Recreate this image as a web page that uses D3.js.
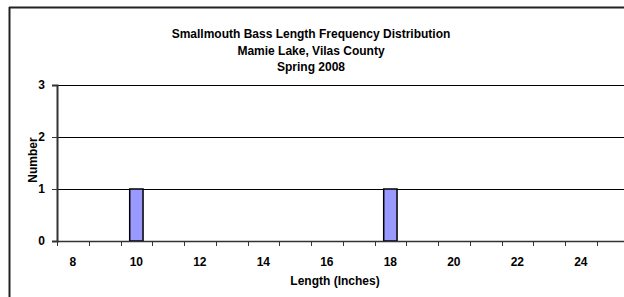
<!DOCTYPE html>
<html lang="en">
<head>
    <meta charset="UTF-8">
    <title>Smallmouth Bass Length Frequency</title>
    <script src="https://d3js.org/d3.v7.min.js"></script>
    <style>
        html, body { margin: 0; background: #fff; overflow: hidden; }
        svg { display: block; }
        text { font-family: Arial, "Liberation Sans", sans-serif; font-weight: bold; fill: #000; }
    </style>
</head>
<body>
    <div id="chart"></div>
    <script>
        // Data
        const lengths = [8, 9, 10, 11, 12, 13, 14, 15, 16, 17, 18, 19, 20, 21, 22, 23, 24, 25];
        const counts  = [0, 0, 1, 0, 0, 0, 0, 0, 0, 0, 1, 0, 0, 0, 0, 0, 0, 0];
        const yTicks = [0, 1, 2, 3];
        const titleLines = ["Smallmouth Bass Length Frequency Distribution", "Mamie Lake, Vilas County", "Spring 2008"];

        const width = 624;
        const height = 297;
        const plot = { left: 57, right: 624, top: 85, bottom: 241 };
        const font = "Arial, 'Liberation Sans', sans-serif";

        const svg = d3.select("#chart")
            .append("svg")
            .attr("width", width)
            .attr("height", height);

        // outer chart border: left and top edges only (the rest is off the picture)
        svg.append("line")
            .attr("x1", 9.5).attr("x2", 9.5).attr("y1", 7).attr("y2", height)
            .attr("stroke", "#222").attr("stroke-width", 2);
        svg.append("line")
            .attr("x1", 9).attr("x2", width).attr("y1", 7.5).attr("y2", 7.5)
            .attr("stroke", "#222").attr("stroke-width", 2);

        // band scale: 18 categories, 31.75 px each, last band runs past the edge
        const bandW = 31.75;
        const xb = d3.scaleBand().domain(lengths).range([plot.left, plot.left + bandW * lengths.length]);
        const x = d3.scaleBand()
            .domain(lengths)
            .range(xb.range())
            .paddingInner(0.58)
            .paddingOuter(0.29);

        const y = d3.scaleLinear()
            .domain([0, 3])
            .range([plot.bottom, plot.top]);

        // gridlines
        svg.append("g")
            .selectAll("line")
            .data(yTicks.filter(d => d > 0))
            .join("line")
            .attr("x1", plot.left).attr("x2", plot.right)
            .attr("y1", d => Math.round(y(d)) + 0.5)
            .attr("y2", d => Math.round(y(d)) + 0.5)
            .attr("stroke", "#000")
            .attr("stroke-width", 1);

        // bars
        svg.append("g")
            .selectAll("rect")
            .data(lengths.map((l, i) => ({ l, c: counts[i] })).filter(d => d.c > 0))
            .join("rect")
            .attr("x", d => x(d.l))
            .attr("y", d => y(d.c))
            .attr("width", x.bandwidth())
            .attr("height", d => y(0) - y(d.c))
            .attr("fill", "#9999ff")
            .attr("stroke", "#000")
            .attr("stroke-width", 1.5);

        // y axis
        const yAxis = svg.append("g")
            .attr("transform", `translate(${plot.left},0)`)
            .call(d3.axisLeft(y).tickValues(yTicks).tickSize(5).tickPadding(7).tickFormat(d3.format("d")));
        yAxis.select(".domain").attr("stroke", "#333").attr("stroke-width", 2);
        yAxis.selectAll(".tick line").attr("stroke", "#333");
        yAxis.selectAll("text").style("font-size", "12px").style("font-family", font).style("font-weight", "bold");

        // x axis: ticks at band edges, labels on every other category
        const xAxisG = svg.append("g").attr("transform", `translate(0,${plot.bottom})`);
        xAxisG.append("line")
            .attr("x1", plot.left).attr("x2", plot.right)
            .attr("y1", 0.5).attr("y2", 0.5)
            .attr("stroke", "#333").attr("stroke-width", 1.5);
        xAxisG.selectAll(".edge")
            .data(lengths)
            .join("line")
            .attr("class", "edge")
            .attr("x1", d => Math.round(xb(d)) + 0.5)
            .attr("x2", d => Math.round(xb(d)) + 0.5)
            .attr("y1", 0).attr("y2", 5)
            .attr("stroke", "#333");
        xAxisG.selectAll(".lbl")
            .data(lengths.filter(d => d % 2 === 0))
            .join("text")
            .attr("class", "lbl")
            .attr("x", d => xb(d) + xb.bandwidth() / 2)
            .attr("y", 25)
            .attr("text-anchor", "middle")
            .style("font-size", "12px")
            .text(d => d);

        // titles
        svg.append("g")
            .selectAll("text")
            .data(titleLines)
            .join("text")
            .attr("x", 311)
            .attr("y", (d, i) => 38 + i * 16.5)
            .attr("text-anchor", "middle")
            .style("font-size", "12px")
            .text(d => d);

        svg.append("text")
            .attr("transform", "translate(37,160) rotate(-90)")
            .attr("text-anchor", "middle")
            .style("font-size", "12px")
            .text("Number");

        svg.append("text")
            .attr("x", 335)
            .attr("y", 285)
            .attr("text-anchor", "middle")
            .style("font-size", "12px")
            .text("Length (Inches)");
    </script>
</body>
</html>
